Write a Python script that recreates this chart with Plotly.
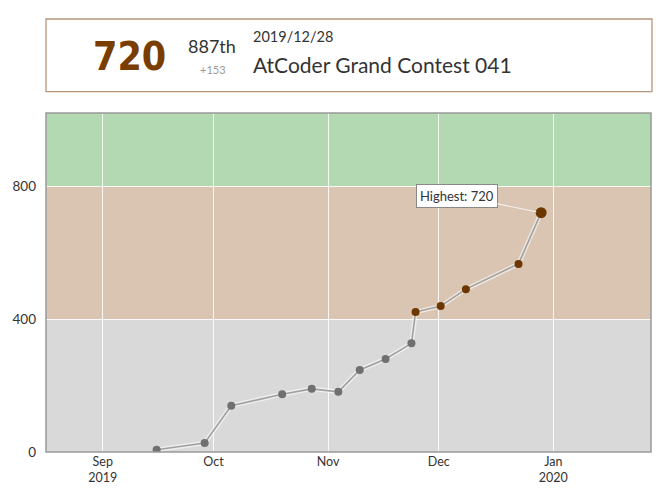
import plotly.graph_objects as go

# ---- data ----
dates = ["2019-09-15 14:00", "2019-09-28 14:00", "2019-10-05 19:00", "2019-10-19 14:00",
         "2019-10-27 14:00", "2019-11-03 19:00", "2019-11-09 14:00", "2019-11-16 14:00",
         "2019-11-23 14:00", "2019-11-24 17:00", "2019-12-01 12:00", "2019-12-08 08:00",
         "2019-12-22 14:00", "2019-12-28 17:00"]
ratings = [7, 27, 139, 174, 190, 181, 247, 280, 327, 421, 439, 490, 566, 720]

band_edges = [0, 400, 800, 1020]
band_colors = ["#D9D9D9", "#D9C5B2", "#B2D9B2"]
rank_colors = ["#707070", "#6E3600", "#008000"]

month_ticks = ["2019-09-01", "2019-10-01", "2019-11-01", "2019-12-01", "2020-01-01"]
month_labels = ["Sep<br>2019", "Oct", "Nov", "Dec", "Jan<br>2020"]
y_ticks = [0, 400, 800]

x_range = ["2019-08-16 15:00", "2020-01-27 11:00"]
y_range = [0, 1020]

header_rating = "720"
header_rank = "887th"
header_diff = "+153"
header_date = "2019/12/28"
header_contest = "AtCoder Grand Contest 041"
highest_text = "Highest: 720"


def color_of(r):
    if r >= 800:
        return rank_colors[2]
    if r >= 400:
        return rank_colors[1]
    return rank_colors[0]


fig = go.Figure()

# line glow
fig.add_trace(go.Scatter(x=dates, y=ratings, mode="lines",
                         line=dict(color="rgba(255,255,255,0.55)", width=4.5),
                         hoverinfo="skip", showlegend=False))
fig.add_trace(go.Scatter(x=dates, y=ratings, mode="lines",
                         line=dict(color="#A0A0A0", width=1.6),
                         hoverinfo="skip", showlegend=False))
imax = ratings.index(max(ratings))
sizes = [8] * len(ratings)
sizes[imax] = 11
fig.add_trace(go.Scatter(x=dates, y=ratings, mode="markers",
                         marker=dict(color=[color_of(r) for r in ratings], size=sizes,
                                     opacity=1, line=dict(width=0)),
                         showlegend=False))

shapes = []
for i, c in enumerate(band_colors):
    shapes.append(dict(type="rect", xref="paper", yref="y", x0=0, x1=1,
                       y0=band_edges[i], y1=band_edges[i + 1], fillcolor=c,
                       line=dict(width=0), layer="below"))
# plot frame
shapes.append(dict(type="rect", xref="paper", yref="paper", x0=0, x1=1, y0=0, y1=1,
                   line=dict(color="#999999", width=1.5), layer="above"))
# header box
shapes.append(dict(type="rect", xref="paper", yref="paper", x0=0, x1=1.0016,
                   y0=1.0628, y1=1.2773, line=dict(color="#B89478", width=1.3),
                   fillcolor="white"))
fig.update_layout(shapes=shapes)

ann = [
    dict(text=f"<b>{header_rating}</b>", x=0.1384, y=1.166, xref="paper", yref="paper",
         xanchor="center", yanchor="middle", showarrow=False,
         font=dict(family="DejaVu Sans Condensed, sans-serif",
                   size=39, color="#7A3D00")),
    dict(text=header_rank, x=0.275, y=1.198, xref="paper", yref="paper",
         xanchor="center", yanchor="middle", showarrow=False,
         font=dict(family="Lato", size=18, color="#333333")),
    dict(text=header_diff, x=0.276, y=1.128, xref="paper", yref="paper",
         xanchor="center", yanchor="middle", showarrow=False,
         font=dict(family="Lato", size=11, color="#999999")),
    dict(text=header_date, x=0.339, y=1.225, xref="paper", yref="paper",
         xanchor="left", yanchor="middle", showarrow=False,
         font=dict(family="Lato", size=14.5, color="#333333")),
    dict(text=header_contest, x=0.339, y=1.142, xref="paper", yref="paper",
         xanchor="left", yanchor="middle", showarrow=False,
         font=dict(family="Lato", size=21, color="#333333")),
    dict(text=highest_text, x=dates[imax], y=ratings[imax], xref="x", yref="y",
         showarrow=True, arrowhead=0, arrowwidth=1.2, arrowcolor="#F4F0EC",
         standoff=5, ax=-84, ay=-17, bgcolor="white", bordercolor="#888888",
         borderwidth=1, borderpad=3, font=dict(family="Lato", size=13, color="#333333")),
]
fig.update_layout(annotations=ann)

fig.update_layout(
    width=667, height=501,
    margin=dict(l=44, r=16, t=113, b=49, pad=0),
    paper_bgcolor="white", plot_bgcolor="white",
    xaxis=dict(type="date", range=x_range, tickvals=month_ticks, ticktext=month_labels,
               showgrid=True, gridcolor="rgba(255,255,255,0.85)", gridwidth=1,
               zeroline=False, showline=False, ticks="",
               tickfont=dict(family="Lato", size=12.5, color="#333333"), fixedrange=True),
    yaxis=dict(range=y_range, tickvals=y_ticks, showgrid=True,
               gridcolor="rgba(255,255,255,0.85)", gridwidth=1, zeroline=False,
               showline=False, ticks="", ticklabelstandoff=9,
               tickfont=dict(family="Lato", size=13.5, color="#333333"), fixedrange=True),
    showlegend=False,
)

fig.write_html("out.html")
